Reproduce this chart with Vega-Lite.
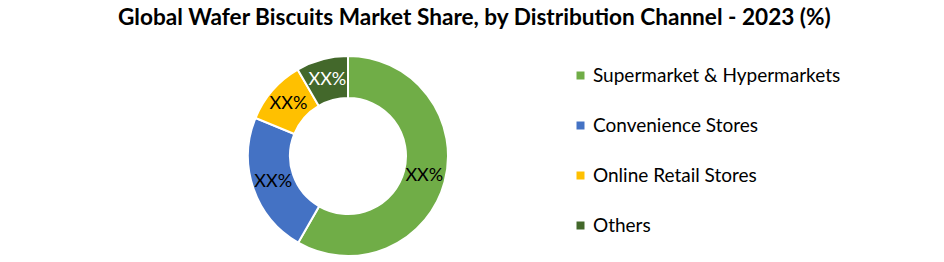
{
  "$schema": "https://vega.github.io/schema/vega-lite/v6.json",
  "autosize": "none",
  "width": 696,
  "height": 200,
  "padding": {"left": 0, "top": 56, "right": 248, "bottom": 6},
  "background": "white",
  "title": {
    "text": "Global Wafer Biscuits Market Share, by Distribution Channel - 2023 (%)",
    "font": "Lato",
    "fontSize": 22.6,
    "fontWeight": "bold",
    "color": "#000000",
    "anchor": "start",
    "frame": "group",
    "dx": 118,
    "offset": 22
  },
  "data": {
    "values": [
      {"channel": "Supermarket & Hypermarkets", "share": 58.3, "rank": 1, "label": "XX%"},
      {"channel": "Convenience Stores", "share": 22.9, "rank": 2, "label": "XX%"},
      {"channel": "Online Retail Stores", "share": 10.4, "rank": 3, "label": "XX%"},
      {"channel": "Others", "share": 8.4, "rank": 4, "label": "XX%"}
    ]
  },
  "encoding": {
    "theta": {"field": "share", "type": "quantitative", "stack": true},
    "order": {"field": "rank", "type": "quantitative"}
  },
  "layer": [
    {
      "mark": {"type": "arc", "outerRadius": 100, "innerRadius": 58, "stroke": "white", "strokeWidth": 2},
      "encoding": {
        "color": {
          "field": "channel",
          "type": "nominal",
          "sort": null,
          "scale": {
            "domain": ["Supermarket & Hypermarkets", "Convenience Stores", "Online Retail Stores", "Others"],
            "range": ["#70AD47", "#4472C4", "#FFC000", "#43682B"]
          },
          "legend": {
            "title": null,
            "orient": "none",
            "legendX": 571,
            "legendY": 10,
            "symbolType": "square",
            "symbolSize": 64,
            "symbolStrokeWidth": 0,
            "labelFont": "Lato",
            "labelFontSize": 19,
            "labelColor": "#000000",
            "labelLimit": 400,
            "labelOffset": 3,
            "rowPadding": 30
          }
        }
      }
    },
    {
      "mark": {"type": "text", "radius": 79, "font": "Lato", "fontSize": 18},
      "encoding": {
        "text": {"field": "label", "type": "nominal"},
        "color": {
          "condition": {"test": "datum.channel === 'Others'", "value": "#FFFFFF"},
          "value": "#000000"
        }
      }
    }
  ]
}
